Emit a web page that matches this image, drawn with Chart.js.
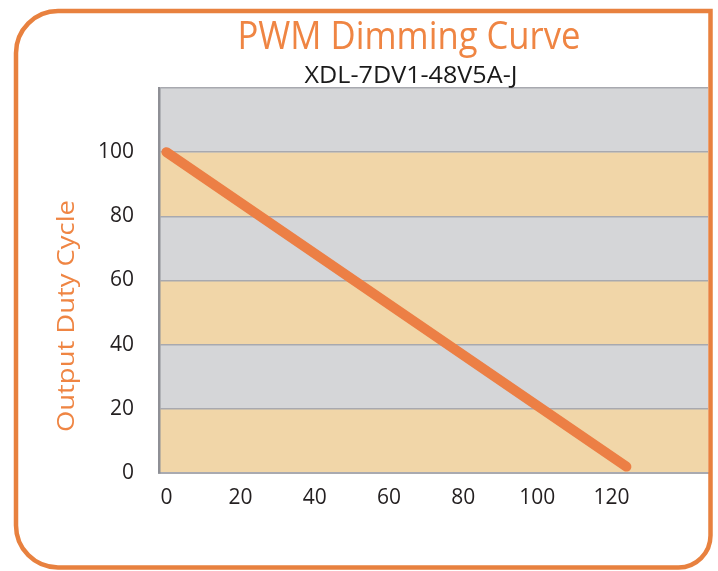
<!DOCTYPE html>
<html>
<head>
<meta charset="utf-8">
<script src="https://cdn.jsdelivr.net/npm/chart.js@4.4.1/dist/chart.umd.min.js"></script>
<style>
  html, body { margin: 0; padding: 0; background: #ffffff; }
  #wrap { width: 718px; height: 571px; position: relative; }
</style>
</head>
<body>
<div id="wrap"><canvas id="c" width="718" height="571"></canvas></div>
<script>
// ---- data ----
const chartTitle = "PWM Dimming Curve";
const chartSubtitle = "XDL-7DV1-48V5A-J";
const yAxisTitle = "Output Duty Cycle";
const xTickValues = [0, 20, 40, 60, 80, 100, 120];
const yTickValues = [0, 20, 40, 60, 80, 100, 120];
const yTickHidden = [120];
const curveX = [0, 124];
const curveY = [100, 2];
const xRange = [-2, 146];
const yRange = [0, 120];

const ORANGE = "#ec7f45";
const TEXT_ORANGE = "#ef8543";
const BAND_GRAY = "#d5d6d8";
const BAND_TAN = "#f1d6a8";

const points = curveX.map((x, i) => ({ x: x, y: curveY[i] }));

const bandsPlugin = {
  id: "bands",
  beforeDraw(chart) {
    const { ctx, chartArea, scales } = chart;
    const y = scales.y;
    ctx.save();
    for (let i = 0; i < yTickValues.length - 1; i++) {
      const top = y.getPixelForValue(yTickValues[i + 1]);
      const bot = y.getPixelForValue(yTickValues[i]);
      ctx.fillStyle = (i % 2 === 0) ? BAND_TAN : BAND_GRAY;
      ctx.fillRect(chartArea.left, top, chartArea.right - chartArea.left, bot - top);
    }
    ctx.restore();
  }
};

function fitText(ctx, text, cx, baseline, font, color, width) {
  ctx.save();
  ctx.font = font;
  ctx.fillStyle = color;
  ctx.textAlign = "center";
  ctx.textBaseline = "alphabetic";
  const w = ctx.measureText(text).width;
  const s = width / w;
  ctx.translate(cx, baseline);
  ctx.scale(s, 1);
  ctx.fillText(text, 0, 0);
  ctx.restore();
}

const decorPlugin = {
  id: "decor",
  afterDraw(chart) {
    const ctx = chart.ctx;
    // titles
    fitText(ctx, chartTitle, 409, 49, "39px 'Open Sans'", TEXT_ORANGE, 343);
    fitText(ctx, chartSubtitle, 411, 83, "23px 'Open Sans'", "#1a1a1a", 213);
    // y axis title
    ctx.save();
    ctx.font = "24px 'Open Sans'";
    ctx.fillStyle = TEXT_ORANGE;
    ctx.textAlign = "center";
    ctx.textBaseline = "middle";
    ctx.translate(67, 316);
    ctx.rotate(-Math.PI / 2);
    const w = ctx.measureText(yAxisTitle).width;
    ctx.scale(232 / w, 1);
    ctx.fillText(yAxisTitle, 0, 0);
    ctx.restore();
    // frame
    const L = 16, T = 11, R = 710.5, B = 567.5;
    const rTL = 42, rBR = 32, rBL = 42;
    ctx.save();
    ctx.strokeStyle = "#e8813f";
    ctx.lineWidth = 4.5;
    ctx.beginPath();
    ctx.moveTo(L + rTL, T);
    ctx.lineTo(R, T);
    ctx.lineTo(R, B - rBR);
    ctx.arcTo(R, B, R - rBR, B, rBR);
    ctx.lineTo(L + rBL, B);
    ctx.arcTo(L, B, L, B - rBL, rBL);
    ctx.lineTo(L, T + rTL);
    ctx.arcTo(L, T, L + rTL, T, rTL);
    ctx.closePath();
    ctx.stroke();
    ctx.restore();
  }
};

new Chart(document.getElementById("c"), {
  type: "scatter",
  data: {
    datasets: [{
      data: points,
      showLine: true,
      borderColor: ORANGE,
      backgroundColor: ORANGE,
      borderWidth: 10,
      borderCapStyle: "round",
      pointRadius: 0,
      pointHoverRadius: 0,
      clip: false
    }]
  },
  options: {
    responsive: false,
    animation: false,
    devicePixelRatio: 1,
    layout: { padding: { top: 88, left: 0, right: 10, bottom: 0 } },
    plugins: { legend: { display: false }, tooltip: { enabled: false }, title: { display: false } },
    scales: {
      x: {
        type: "linear",
        min: xRange[0],
        max: xRange[1],
        afterBuildTicks: (s) => { s.ticks = xTickValues.map(v => ({ value: v })); },
        afterFit: (s) => { s.height = 98; },
        grid: { display: false, drawTicks: false },
        border: { display: true, color: "#a9aab0", width: 2 },
        ticks: {
          padding: 12,
          color: "#231f20",
          font: { family: "'Open Sans'", size: 21 },
          maxRotation: 0,
          autoSkip: false
        }
      },
      y: {
        type: "linear",
        min: yRange[0],
        max: yRange[1],
        afterBuildTicks: (s) => { s.ticks = yTickValues.map(v => ({ value: v })); },
        afterFit: (s) => { s.width = 159; },
        grid: { display: true, drawTicks: false, color: "#a8a9af", lineWidth: 1.5 },
        border: { display: true, color: "#8e8f95", width: 2.5 },
        ticks: {
          padding: 25,
          color: "#231f20",
          font: { family: "'Open Sans'", size: 21 },
          callback: (v) => yTickHidden.includes(v) ? "" : String(v)
        }
      }
    }
  },
  plugins: [bandsPlugin, decorPlugin]
});
</script>
</body>
</html>
